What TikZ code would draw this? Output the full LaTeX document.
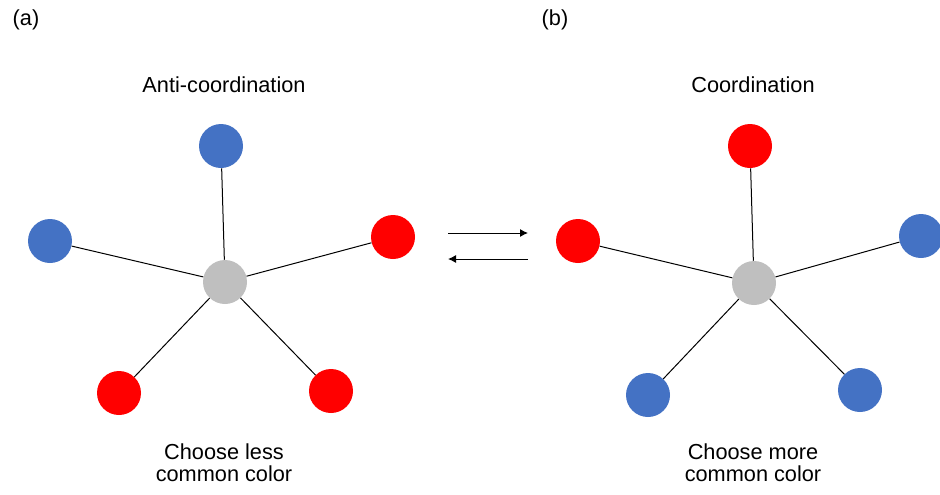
\documentclass[tikz,border=0pt]{standalone}
\usepackage{fontspec}
\setmainfont{Liberation Sans}
\usepackage{tikz}
\usetikzlibrary{arrows.meta}

\definecolor{dotblue}{HTML}{4472C4}
\definecolor{dotred}{HTML}{FF0000}
\definecolor{dotgray}{HTML}{BFBFBF}

\tikzset{
  dot/.style={circle,minimum size=33pt,inner sep=0pt},
  hub/.style={dot,fill=dotgray},
  bdot/.style={dot,fill=dotblue},
  rdot/.style={dot,fill=dotred},
  spoke/.style={line width=0.75pt},
  txt/.style={font=\fontsize{16.3}{16.5}\selectfont,align=center}
}

\begin{document}
\begin{tikzpicture}[x=0.75pt,y=-0.75pt]

\useasboundingbox (0,0) rectangle (940,494);

% panel (a)
\node[txt] (lab_a) at (26,20) {(a)};
\node[txt] (title_a) at (224,85) {Anti-coordination};
\node[hub] (hub_a) at (225,282) {};
\node[bdot] (a1) at (221,146) {};
\node[bdot] (a2) at (50,241) {};
\node[rdot] (a3) at (393,237) {};
\node[rdot] (a4) at (119,393) {};
\node[rdot] (a5) at (331,391) {};
\foreach \n in {a1,a2,a3,a4,a5}
\draw[spoke] (hub_a) -- (\n);
\node[txt] (cap_a) at (224,463) {Choose less\\common color};

% arrows
\coordinate (l1) at (448,233);
\coordinate (r1) at (528,233);
\coordinate (l2) at (448,259);
\coordinate (r2) at (528,259);
\draw[spoke,-{Latex[length=6pt,width=6pt]}] (l1) -- (r1);
\draw[spoke,-{Latex[length=6pt,width=6pt]}] (r2) -- (l2);

% panel (b)
\node[txt] (lab_b) at (555,20) {(b)};
\node[txt] (title_b) at (753,85) {Coordination};
\node[hub] (hub_b) at (754,283) {};
\node[rdot] (b1) at (750,146) {};
\node[rdot] (b2) at (578,241) {};
\node[bdot] (b3) at (921,236) {};
\node[bdot] (b4) at (648,395) {};
\node[bdot] (b5) at (860,390) {};
\foreach \n in {b1,b2,b3,b4,b5}
\draw[spoke] (hub_b) -- (\n);
\node[txt] (cap_b) at (753,463) {Choose more\\common color};

\end{tikzpicture}
\end{document}
